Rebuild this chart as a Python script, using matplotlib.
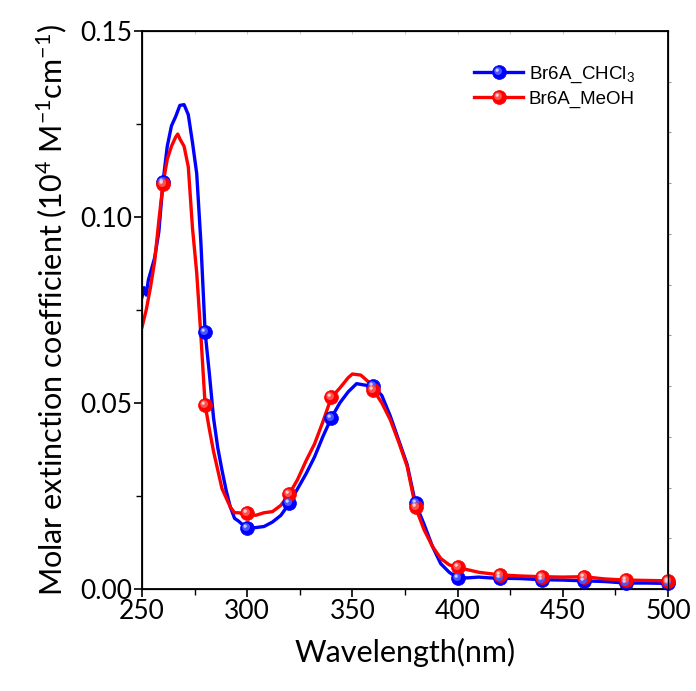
import numpy as np
import matplotlib
matplotlib.use("Agg")
import matplotlib.pyplot as plt
from matplotlib.ticker import MultipleLocator, FormatStrFormatter
from matplotlib.lines import Line2D
from matplotlib.path import Path
from matplotlib.legend_handler import HandlerTuple

# ---------------- data ----------------
wl_chcl3 = [250, 251, 252, 253, 254, 256, 258, 260, 262, 264, 266, 268, 270, 272, 274, 276, 278,
            280, 282, 284, 286, 288, 290, 292, 294, 296, 298, 300, 304, 308, 312, 316, 320,
            324, 328, 332, 336, 340, 344, 348, 352, 356, 360, 364, 368, 372, 376, 380, 384,
            388, 392, 396, 400, 405, 410, 415, 420, 430, 440, 450, 460, 470, 480, 490, 500]
abs_chcl3 = [0.0785, 0.081, 0.079, 0.083, 0.085, 0.089, 0.096, 0.1095, 0.119, 0.1245, 0.127,
             0.1300, 0.1302, 0.1275, 0.120, 0.1117, 0.093, 0.069, 0.058, 0.046, 0.038, 0.032,
             0.0265, 0.022, 0.019, 0.0182, 0.0172, 0.0165, 0.0165, 0.0168, 0.018, 0.0198,
             0.0230, 0.027, 0.031, 0.0355, 0.041, 0.046, 0.050, 0.053, 0.0552, 0.0548, 0.0545,
             0.052, 0.0465, 0.040, 0.0335, 0.0230, 0.0175, 0.0115, 0.0068, 0.0045, 0.0030,
             0.0030, 0.0032, 0.0030, 0.0029, 0.0028, 0.0025, 0.0024, 0.0022, 0.0020, 0.0016,
             0.0016, 0.0015]

wl_meoh = [250, 252, 254, 256, 258, 260, 262, 264, 266, 267, 268, 270, 272, 274, 276, 278,
           280, 282, 284, 286, 288, 290, 292, 294, 296, 298, 300, 304, 308, 312, 316, 320,
           324, 328, 332, 336, 340, 344, 348, 350, 354, 358, 360, 364, 368, 372, 376, 380,
           384, 388, 392, 396, 400, 410, 420, 430, 440, 450, 460, 470, 480, 490, 500]
abs_meoh = [0.0704, 0.075, 0.081, 0.088, 0.099, 0.109, 0.1155, 0.119, 0.1215, 0.1223, 0.121,
            0.119, 0.1135, 0.097, 0.085, 0.068, 0.0495, 0.043, 0.037, 0.032, 0.027, 0.0245,
            0.022, 0.0205, 0.0205, 0.0202, 0.0203, 0.0198, 0.0205, 0.0208, 0.0225, 0.0255,
            0.0295, 0.0345, 0.039, 0.045, 0.0515, 0.054, 0.0568, 0.0578, 0.0575, 0.0555,
            0.0535, 0.050, 0.0455, 0.0395, 0.033, 0.022, 0.016, 0.0115, 0.0082, 0.0065,
            0.0058, 0.0045, 0.0038, 0.0035, 0.0033, 0.0032, 0.0033, 0.0027, 0.0024, 0.0023,
            0.0022]

marker_wl = [260, 280, 300, 320, 340, 360, 380, 400, 420, 440, 460, 480, 500]
labels = ["Br6A_CHCl$_3$", "Br6A_MeOH"]
colors = ["#0000ff", "#ff0000"]
mid_colors = ["#4a55ff", "#ff5050"]
highlight = ["#c8ccff", "#ffd0d0"]

x_ticks = [250, 300, 350, 400, 450, 500]
y_ticks = [0.00, 0.05, 0.10, 0.15]

# ---------------- style ----------------
plt.rcParams['font.family'] = ['Lato', 'DejaVu Sans']
plt.rcParams['mathtext.fontset'] = 'custom'
plt.rcParams['mathtext.rm'] = 'Lato'
plt.rcParams['mathtext.it'] = 'Lato:italic'
plt.rcParams['mathtext.bf'] = 'Lato:bold'


def off_circle(cx, cy, r):
    anchor = Path([(0.5, 0.5), (-0.5, -0.5)], [Path.MOVETO, Path.MOVETO])
    circ = Path.circle(center=(cx, cy), radius=r)
    return Path.make_compound_path(anchor, circ)


glow_marker = off_circle(-0.10, 0.10, 0.28)
spot_marker = off_circle(-0.17, 0.17, 0.12)

fig = plt.figure(figsize=(6.96, 6.91), dpi=100)
ax = fig.add_axes([142/696, 1-589/691, 526/696, 558/691])

MS = 10
handles = []
series = [(wl_chcl3, abs_chcl3), (wl_meoh, abs_meoh)]
for (wl, ab), c, mc, hc, lab in zip(series, colors, mid_colors, highlight, labels):
    idx = [i for i, w in enumerate(wl) if w in marker_wl]
    ax.plot(wl, ab, color=c, lw=2.4, zorder=3)
    mk = [wl[i] for i in idx]
    mv = [ab[i] for i in idx]
    ax.plot(mk, mv, ls='none', marker='o', ms=MS, mfc=c, mec=c, mew=0.5, zorder=4, clip_on=False)
    ax.plot(mk, mv, ls='none', marker=glow_marker, ms=MS, mfc=mc, mec='none', zorder=5, clip_on=False)
    ax.plot(mk, mv, ls='none', marker=spot_marker, ms=MS, mfc=hc, mec='none', zorder=6, clip_on=False)
    h1 = Line2D([], [], color=c, lw=2.4, marker='o', ms=MS, mfc=c, mec=c, mew=0.5)
    h2 = Line2D([], [], ls='none', marker=glow_marker, ms=MS, mfc=mc, mec='none')
    h3 = Line2D([], [], ls='none', marker=spot_marker, ms=MS, mfc=hc, mec='none')
    handles.append((h1, h2, h3))

leg = ax.legend(handles, labels, handler_map={tuple: HandlerTuple(ndivide=1, pad=0)},
                loc='upper left', bbox_to_anchor=(0.6, 0.97), frameon=False,
                prop={'family': 'Liberation Sans', 'size': 13.5}, handlelength=2.6,
                handletextpad=0.3, labelspacing=0.3)

ax.set_xlim(250, 500)
ax.set_ylim(0, 0.15)
ax.set_xticks(x_ticks)
ax.set_yticks(y_ticks)
ax.xaxis.set_minor_locator(MultipleLocator(25))
ax.yaxis.set_minor_locator(MultipleLocator(0.025))
ax.yaxis.set_major_formatter(FormatStrFormatter('%.2f'))
ax.tick_params(axis='both', which='major', direction='out', length=6, width=1.2,
               labelsize=19, pad=1, top=False, right=False)
ax.tick_params(axis='both', which='minor', direction='out', length=4, width=1.0,
               top=False, right=False)
for s in ax.spines.values():
    s.set_linewidth(1.3)

# faint ticks on top and right spines
axt = ax.twiny()
axt.set_xlim(0, 1)
axt.set_xticks(np.arange(0.1, 1.0, 0.1))
axt.tick_params(axis='x', direction='in', length=2, color='#cccccc', labeltop=False)
axr = ax.twinx()
axr.set_ylim(0, 1)
axr.set_yticks(np.arange(1/11, 1.0, 1/11))
axr.tick_params(axis='y', direction='out', length=2, color='#999999', labelright=False)

ax.set_xlabel("Wavelength(nm)", fontsize=22, labelpad=10)
ax.set_ylabel("Molar extinction coefficient (10$^{4}$ M$^{-1}$cm$^{-1}$)", fontsize=22, labelpad=8)

fig.savefig("out.png", dpi=100)
